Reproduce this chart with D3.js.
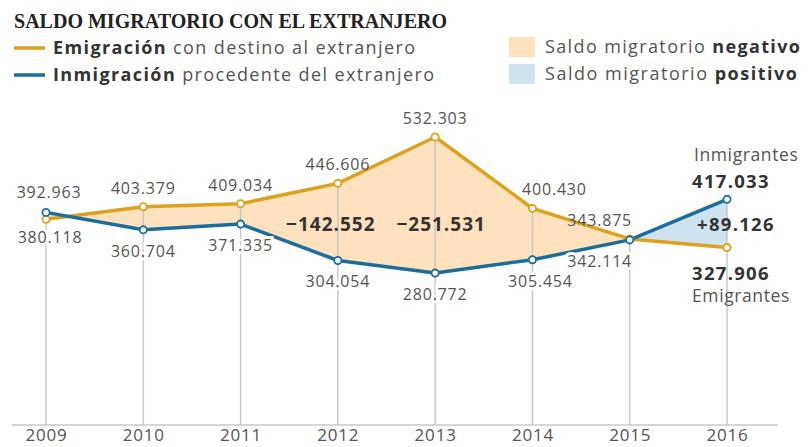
<!DOCTYPE html>
<html><head><meta charset="utf-8">
<script src="https://cdn.jsdelivr.net/npm/d3@7"></script>
<style>
html,body{margin:0;padding:0;background:#fff;}
svg{display:block;}
</style></head>
<body>
<svg id="chart" width="811" height="447"></svg>
<script>
const years = [2009, 2010, 2011, 2012, 2013, 2014, 2015, 2016];
const emigracion = [380118, 403379, 409034, 446606, 532303, 400430, 343875, 327906];
const inmigracion = [392963, 360704, 371335, 304054, 280772, 305454, 342114, 417033];
const saldoLabels = [
  {year: 2012, text: "\u2212142.552"},
  {year: 2013, text: "\u2212251.531"}
];
const finalSaldo = "+89.126";
const title = "SALDO MIGRATORIO CON EL EXTRANJERO";

const fmt = v => d3.format(",")(v).replace(/,/g, ".");

const ORANGE = "#dca11d", BLUE = "#1b6d9d";
const PEACH = "#fde2bd", LBLUE = "#cfe3ee";
const GREY = "#555", GRID = "#c9c9c9";
const FONT = "'Open Sans', sans-serif";

const svg = d3.select("#chart");
const x = d3.scalePoint().domain(years).range([46, 727]);
const y = d3.scaleLinear().domain([0, 532303]).range([425, 137]);

const data = years.map((yr, i) => ({year: yr, e: emigracion[i], m: inmigracion[i]}));
const H = 447;

const defs = svg.append("defs");
defs.append("clipPath").attr("id", "belowE").append("path")
  .attr("d", d3.area().x(d => x(d.year)).y0(H).y1(d => y(d.e))(data));
defs.append("clipPath").attr("id", "belowM").append("path")
  .attr("d", d3.area().x(d => x(d.year)).y0(H).y1(d => y(d.m))(data));

svg.append("path")
  .attr("d", d3.area().x(d => x(d.year)).y0(0).y1(d => y(d.m))(data))
  .attr("clip-path", "url(#belowE)").attr("fill", PEACH);
svg.append("path")
  .attr("d", d3.area().x(d => x(d.year)).y0(0).y1(d => y(d.e))(data))
  .attr("clip-path", "url(#belowM)").attr("fill", LBLUE);

// gridlines
svg.append("g").selectAll("line").data(data).join("line")
  .attr("x1", d => x(d.year)).attr("x2", d => x(d.year))
  .attr("y1", d => y(Math.max(d.e, d.m))).attr("y2", y(0))
  .attr("stroke", GRID).attr("stroke-width", 1.5);

// axis
const axis = svg.append("g").attr("transform", `translate(0,${y(0)})`)
  .call(d3.axisBottom(x).tickSize(0).tickPadding(4));
axis.select(".domain").remove();
axis.append("line").attr("x1", 12).attr("x2", 778).attr("stroke", GRID).attr("stroke-width", 1.5);
axis.selectAll(".tick text").attr("font-family", FONT).attr("font-size", 17)
  .attr("fill", GREY).attr("letter-spacing", "0.8px");

// lines
const lineE = d3.line().x(d => x(d.year)).y(d => y(d.e));
const lineM = d3.line().x(d => x(d.year)).y(d => y(d.m));
svg.append("path").attr("d", lineE(data)).attr("fill", "none").attr("stroke", ORANGE).attr("stroke-width", 3.5).attr("stroke-linejoin", "round");
svg.append("path").attr("d", lineM(data)).attr("fill", "none").attr("stroke", BLUE).attr("stroke-width", 3.5).attr("stroke-linejoin", "round");

svg.append("g").selectAll("circle").data(data).join("circle")
  .attr("cx", d => x(d.year)).attr("cy", d => y(d.e)).attr("r", 3.6)
  .attr("fill", "#fff").attr("stroke", ORANGE).attr("stroke-width", 1.8);
svg.append("g").selectAll("circle").data(data).join("circle")
  .attr("cx", d => x(d.year)).attr("cy", d => y(d.m)).attr("r", 3.6)
  .attr("fill", "#fff").attr("stroke", BLUE).attr("stroke-width", 1.8);

// value labels (except last year)
const dxE = {2009: 4, 2014: 22, 2015: -30};
const dxM = {2009: 3, 2014: 8, 2015: -30};
const lab = svg.append("g").attr("font-family", FONT).attr("font-size", 16)
  .attr("fill", GREY).attr("text-anchor", "middle").attr("letter-spacing", "0.8px");
data.slice(0, -1).forEach(d => {
  const eAbove = d.e >= d.m;
  const ye = y(d.e), ym = y(d.m);
  const te = lab.append("text").attr("x", x(d.year) + (dxE[d.year] || 0))
    .attr("y", eAbove ? ye - 13 : ye + 24).text(fmt(d.e));
  const tm = lab.append("text").attr("x", x(d.year) + (dxM[d.year] || 0))
    .attr("y", eAbove ? ym + 27 : ym - 14).text(fmt(d.m));
  const below = eAbove ? tm : te;
  below.attr("paint-order", "stroke").attr("stroke", "#fff").attr("stroke-width", 6);
});

// saldo labels
const sl = svg.append("g").attr("font-family", FONT).attr("font-size", 19)
  .attr("font-weight", 700).attr("fill", "#333").attr("text-anchor", "middle")
  .attr("letter-spacing", "1px");
const offs = {2012: -7, 2013: 6};
saldoLabels.forEach(s => {
  sl.append("text").attr("x", x(s.year) + offs[s.year]).attr("y", 231).text(s.text);
});

// right side labels
const last = data[data.length - 1];
const rx = x(last.year) - 35;
const rg = svg.append("g").attr("font-family", FONT).attr("fill", GREY);
rg.append("text").attr("x", rx + 2).attr("y", y(last.m) - 38).attr("font-size", 17.5).attr("letter-spacing", "0.6px").text("Inmigrantes");
rg.append("text").attr("x", rx).attr("y", y(last.m) - 11).attr("font-size", 18.5).attr("font-weight", 700).attr("fill", "#333").attr("letter-spacing", "1.3px").text(fmt(last.m));
rg.append("text").attr("x", rx + 5).attr("y", (y(last.m) + y(last.e)) / 2 + 8).attr("font-size", 18.5).attr("font-weight", 700).attr("fill", "#333").attr("letter-spacing", "1.3px").text(finalSaldo);
rg.append("text").attr("x", rx).attr("y", y(last.e) + 32).attr("font-size", 18.5).attr("font-weight", 700).attr("fill", "#333").attr("letter-spacing", "1.3px").text(fmt(last.e));
rg.append("text").attr("x", rx).attr("y", y(last.e) + 54).attr("font-size", 17.5).attr("letter-spacing", "0.6px").text("Emigrantes");

// title
svg.append("text").attr("x", 14).attr("y", 28).attr("font-family", "'Liberation Serif', serif")
  .attr("font-weight", 700).attr("font-size", 20).attr("fill", "#222")
  .attr("textLength", 433).attr("lengthAdjust", "spacingAndGlyphs").text(title);

// legend
const lg = svg.append("g").attr("font-family", FONT).attr("font-size", 18).attr("fill", GREY);
[[ORANGE, "Emigración", " con destino al extranjero", 48, 362], [BLUE, "Inmigración", " procedente del extranjero", 75, 381]].forEach(([c, b, r, yy, w]) => {
  lg.append("line").attr("x1", 14).attr("x2", 45).attr("y1", yy).attr("y2", yy).attr("stroke", c).attr("stroke-width", 3.5);
  const t = lg.append("text").attr("x", 53).attr("y", yy + 6).attr("textLength", w);
  t.append("tspan").attr("font-weight", 700).attr("fill", "#333").text(b);
  t.append("tspan").text(r);
});
[[PEACH, "negativo", 37, 255], [LBLUE, "positivo", 64, 252]].forEach(([c, b, yy, w]) => {
  lg.append("rect").attr("x", 509).attr("y", yy).attr("width", 26).attr("height", 20).attr("fill", c);
  const t = lg.append("text").attr("x", 545).attr("y", yy + 16).attr("textLength", w);
  t.append("tspan").text("Saldo migratorio ");
  t.append("tspan").attr("font-weight", 700).attr("fill", "#333").text(b);
});
</script>
</body></html>
